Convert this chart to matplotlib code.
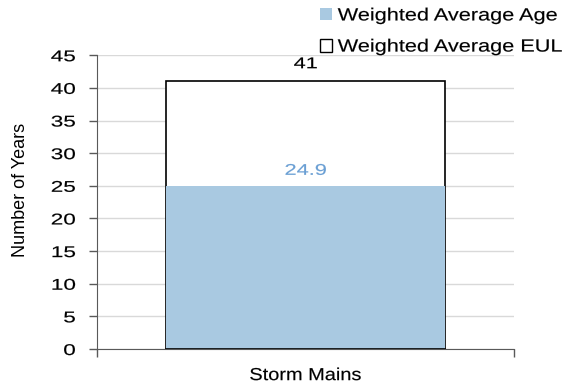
import matplotlib.pyplot as plt
from matplotlib.patches import Patch
from matplotlib.patheffects import AbstractPathEffect
from matplotlib.transforms import Affine2D

plt.rcParams['font.family'] = ['Liberation Sans', 'DejaVu Sans']

categories = ['Storm Mains']
eul = [41]
age = [24.9]
yticks = list(range(0, 46, 5))

AGE_COLOR = '#a9c9e1'
AGE_TEXT = '#6a9fd4'


class Widen(AbstractPathEffect):
    """Stretch a text horizontally about its left, centre or right edge,
    with a thin outline in the text colour to thicken the strokes."""

    def __init__(self, sx, align='center', stroke=0.12):
        super().__init__()
        self.sx = sx
        self.align = align
        self.stroke = stroke

    def draw_path(self, renderer, gc, tpath, affine, rgbFace=None):
        xs = affine.transform(tpath.vertices)[:, 0]
        if len(xs) == 0:
            return
        pivot = {'left': xs.min(), 'right': xs.max()}.get(self.align, (xs.min() + xs.max()) / 2)
        widen = Affine2D().translate(-pivot, 0).scale(self.sx, 1).translate(pivot, 0)
        gc0 = renderer.new_gc()
        gc0.copy_properties(gc)
        if rgbFace is not None:
            gc0.set_foreground(rgbFace)
        gc0.set_linewidth(self.stroke)
        renderer.draw_path(gc0, tpath, affine + widen, rgbFace)
        gc0.restore()


fig = plt.figure(figsize=(5.65, 3.83), dpi=100)
ax = fig.add_axes([0.1717, 0.0888, 0.738, 0.767])

x = [0]
# EUL bar behind, age bar drawn on top of it
ax.bar(x, eul, width=0.67, color='white', edgecolor='black', linewidth=1.2, zorder=2)
ax.bar(x, age, width=0.67, color=AGE_COLOR, edgecolor='none', zorder=3)
ax.plot([-0.335, 0.335], [0, 0], color='black', lw=1.2, zorder=4)

ax.annotate(f'{eul[0]:g}', (0, eul[0]), xytext=(0, 7.3), textcoords='offset points',
            ha='center', va='bottom', fontsize=11.2, color='black',
            path_effects=[Widen(1.4)])
ax.annotate(f'{age[0]:g}', (0, age[0]), xytext=(0, 6.2), textcoords='offset points',
            ha='center', va='bottom', fontsize=11.2, color=AGE_TEXT,
            path_effects=[Widen(1.4)])

ax.set_xlim(-0.5, 0.5)
ax.set_ylim(0, 45)
ax.set_yticks(yticks)
ax.set_xticks([-0.5, 0.5])
ax.set_xticklabels(['', ''])
ax.tick_params(axis='x', length=6, color='#595959', width=1)
ax.tick_params(axis='y', length=6, color='#595959', width=1, labelsize=11.2, pad=9.5)
for lbl in ax.get_yticklabels():
    lbl.set_path_effects([Widen(1.45, 'right')])

ax.text(0, -0.065, categories[0], transform=ax.get_xaxis_transform(),
        ha='center', va='top', fontsize=12.5, path_effects=[Widen(1.15)])

ax.grid(axis='y', color='#d9d9d9', lw=1, zorder=0)
ax.set_axisbelow(True)
for s in ['top', 'right']:
    ax.spines[s].set_visible(False)
ax.spines['left'].set_color('#595959')
ax.spines['bottom'].set_color('#595959')

fig.text(21 / 565, 1 - 190 / 383, 'Number of Years', rotation=90,
         ha='center', va='center', fontsize=13)

handles = [Patch(facecolor=AGE_COLOR, edgecolor='none'),
           Patch(facecolor='white', edgecolor='black', linewidth=1)]
leg = fig.legend(handles, ['Weighted Average Age', 'Weighted Average EUL'],
                 loc='upper left', bbox_to_anchor=(0.554, 0.999), frameon=False,
                 fontsize=12.7, handlelength=0.7, handleheight=0.7, handletextpad=0.3,
                 labelspacing=0.8, borderaxespad=0)
for t in leg.get_texts():
    t.set_path_effects([Widen(1.23, 'left')])

fig.savefig('out.png', dpi=100)
